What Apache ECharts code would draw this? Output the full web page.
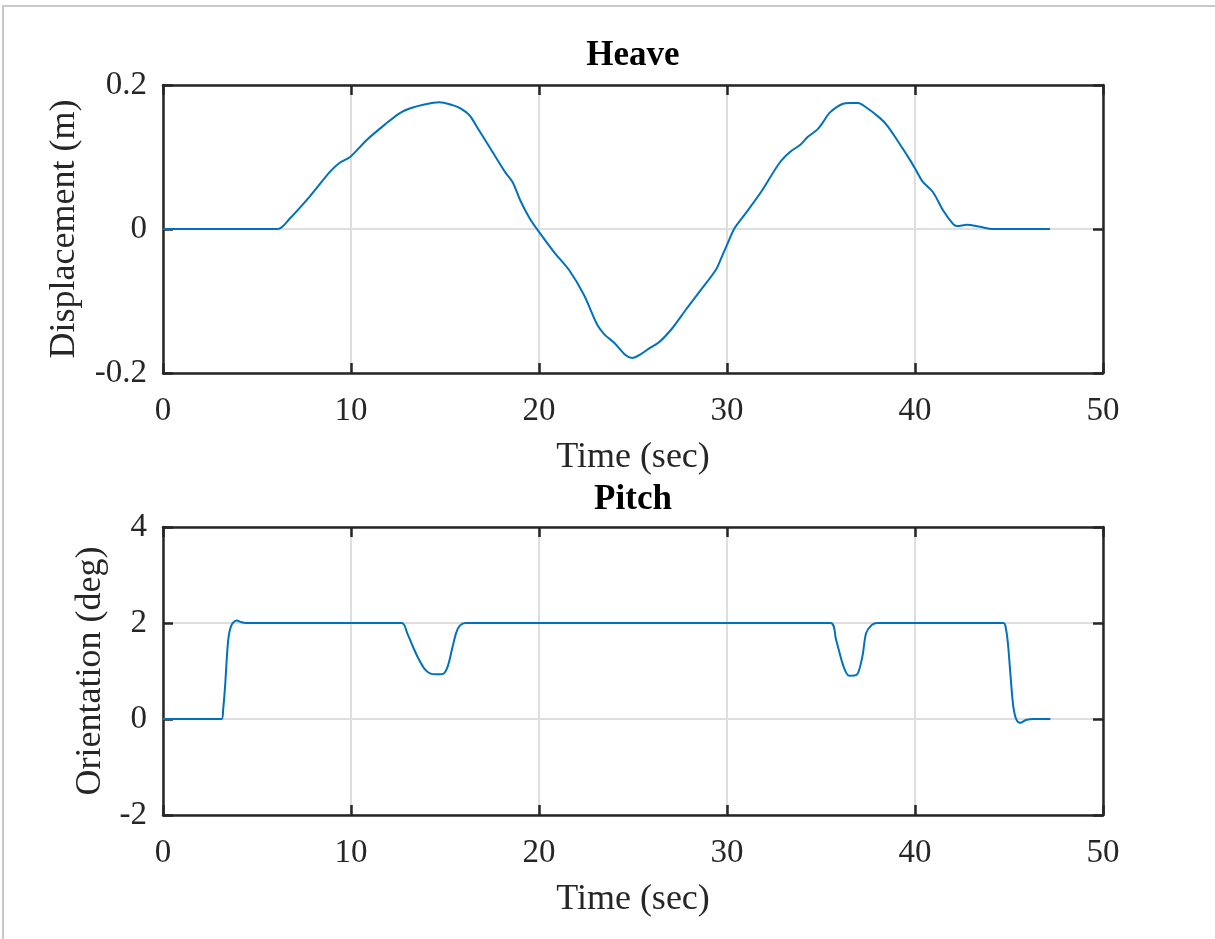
<!DOCTYPE html>
<html>
<head>
<meta charset="utf-8">
<script src="https://cdn.jsdelivr.net/npm/echarts@6/dist/echarts.min.js"></script>
<style>html,body{margin:0;padding:0;background:#fff}#c{width:1215px;height:939px}</style>
</head>
<body>
<div id="c"></div>
<script>
// ---- data ----
const heaveTime = [0, 6.1, 6.76, 7.8, 8.9, 9.4, 9.95, 10.85, 11.8, 12.6, 13.2, 13.9, 14.7, 15.4, 15.8, 16.3, 16.8, 17.4, 18.2, 18.6, 19.0, 19.5, 20.0, 20.8, 21.6, 22.4, 23.1, 23.5, 24.0, 24.6, 24.95, 25.4, 25.9, 26.4, 27.1, 27.8, 28.6, 29.4, 29.7, 30.0, 30.4, 31.0, 31.8, 32.8, 33.35, 33.9, 34.3, 34.8, 35.1, 35.48, 36.17, 36.54, 36.97, 37.45, 38.14, 38.51, 39.04, 39.73, 40.11, 40.43, 40.96, 41.49, 42.02, 42.23, 42.77, 43.46, 44.15, 47.18];
const heaveVal  = [0, 0, 0.015, 0.045, 0.08, 0.092, 0.1, 0.124, 0.145, 0.161, 0.168, 0.173, 0.176, 0.172, 0.168, 0.158, 0.1375, 0.1125, 0.079, 0.065, 0.04, 0.015, -0.004, -0.032, -0.057, -0.092, -0.133, -0.147, -0.158, -0.175, -0.179, -0.174, -0.165, -0.157, -0.1375, -0.1125, -0.085, -0.057, -0.04, -0.022, 0.001, 0.022, 0.051, 0.092, 0.107, 0.117, 0.128, 0.138, 0.148, 0.162, 0.174, 0.175, 0.175, 0.168, 0.154, 0.144, 0.124, 0.096, 0.079, 0.065, 0.051, 0.026, 0.007, 0.004, 0.006, 0.003, 0, 0];

const pitchTime = [0, 3.12, 3.2, 3.3, 3.47, 3.65, 3.92, 4.15, 4.4, 12.7, 13.0, 13.3, 13.6, 13.9, 14.2, 14.5, 14.9, 15.15, 15.4, 15.6, 15.8, 16.1, 35.5, 35.8, 36.2, 36.5, 36.9, 37.2, 37.4, 37.7, 38.0, 44.7, 44.85, 44.96, 45.1, 45.23, 45.4, 45.6, 45.9, 46.3, 47.2];
const pitchVal  = [0, 0, 0.2, 0.67, 1.65, 1.96, 2.05, 2.02, 2.0, 2.0, 1.78, 1.5, 1.25, 1.05, 0.95, 0.93, 0.94, 1.1, 1.5, 1.8, 1.95, 2.0, 2.0, 1.65, 1.09, 0.9, 0.92, 1.3, 1.79, 1.96, 2.0, 2.0, 1.85, 1.5, 0.81, 0.26, -0.02, -0.08, -0.02, 0, 0];

const xTicks = [0, 10, 20, 30, 40, 50];
const heaveTicks = [-0.2, 0, 0.2];
const pitchTicks = [-2, 0, 2, 4];

// ---- chart ----
const INK = '#262626';
const FONT = '"Liberation Serif", "Times New Roman", serif';
const chart = echarts.init(document.getElementById('c'), null, {renderer: 'canvas'});

function pairs(xs, ys) { return xs.map((x, i) => [x, ys[i]]); }

function xAxes(gridIndex) {
  const base = {
    type: 'value', gridIndex, min: xTicks[0], max: xTicks[xTicks.length - 1],
    interval: xTicks[1] - xTicks[0],
    axisLine: {show: true, onZero: false, lineStyle: {color: INK, width: 2.5}},
    axisTick: {show: true, inside: true, length: 10, lineStyle: {color: INK, width: 2.5}},
  };
  return [
    Object.assign({}, base, {
      position: 'bottom',
      name: 'Time (sec)', nameLocation: 'middle', nameGap: 67,
      nameTextStyle: {color: INK, fontFamily: FONT, fontSize: 36},
      axisLabel: {color: INK, fontFamily: FONT, fontSize: 33, margin: 22},
      splitLine: {show: true, lineStyle: {color: '#dedede', width: 2}}
    }),
    Object.assign({}, base, {
      position: 'top', axisLabel: {show: false}, splitLine: {show: false}
    })
  ];
}

function yAxes(gridIndex, ticks, name, gap, fmt) {
  const base = {
    type: 'value', gridIndex, min: ticks[0], max: ticks[ticks.length - 1],
    interval: ticks[1] - ticks[0],
    axisLine: {show: true, onZero: false, lineStyle: {color: INK, width: 2.5}},
    axisTick: {show: true, inside: true, length: 10, lineStyle: {color: INK, width: 2.5}},
  };
  return [
    Object.assign({}, base, {
      position: 'left',
      name, nameLocation: 'middle', nameGap: gap,
      nameTextStyle: {color: INK, fontFamily: FONT, fontSize: 36},
      axisLabel: {color: INK, fontFamily: FONT, fontSize: 33, margin: 16, formatter: fmt},
      splitLine: {show: true, lineStyle: {color: '#dedede', width: 2}}
    }),
    Object.assign({}, base, {
      position: 'right', axisLabel: {show: false}, splitLine: {show: false}
    })
  ];
}

const option = {
  backgroundColor: '#ffffff',
  animation: false,
  graphic: [{
    type: 'rect', shape: {x: 3, y: 6, width: 1400, height: 1200},
    style: {fill: 'none', stroke: '#c8c8c8', lineWidth: 2}, silent: true
  }],
  title: [
    {text: 'Heave', left: 633, top: 38, textAlign: 'center', padding: 0,
     textStyle: {color: '#000', fontFamily: FONT, fontSize: 35, fontWeight: 'bold'}},
    {text: 'Pitch', left: 633, top: 482, textAlign: 'center', padding: 0,
     textStyle: {color: '#000', fontFamily: FONT, fontSize: 35, fontWeight: 'bold'}}
  ],
  grid: [
    {left: 163, top: 85, width: 940, height: 288},
    {left: 163, top: 527, width: 940, height: 288}
  ],
  xAxis: [...xAxes(0), ...xAxes(1)],
  yAxis: [
    ...yAxes(0, heaveTicks, 'Displacement (m)', 80, v => (Math.abs(v) < 1e-9 ? '0' : String(Math.round(v * 10) / 10))),
    ...yAxes(1, pitchTicks, 'Orientation (deg)', 52, v => String(Math.round(v)))
  ],
  series: [
    {type: 'line', xAxisIndex: 0, yAxisIndex: 0, data: pairs(heaveTime, heaveVal),
     showSymbol: false, smooth: 0.3, lineStyle: {color: '#0072BD', width: 2}},
    {type: 'line', xAxisIndex: 2, yAxisIndex: 2, data: pairs(pitchTime, pitchVal),
     showSymbol: false, smooth: 0.3, lineStyle: {color: '#0072BD', width: 2}}
  ]
};
chart.setOption(option);
</script>
</body>
</html>
